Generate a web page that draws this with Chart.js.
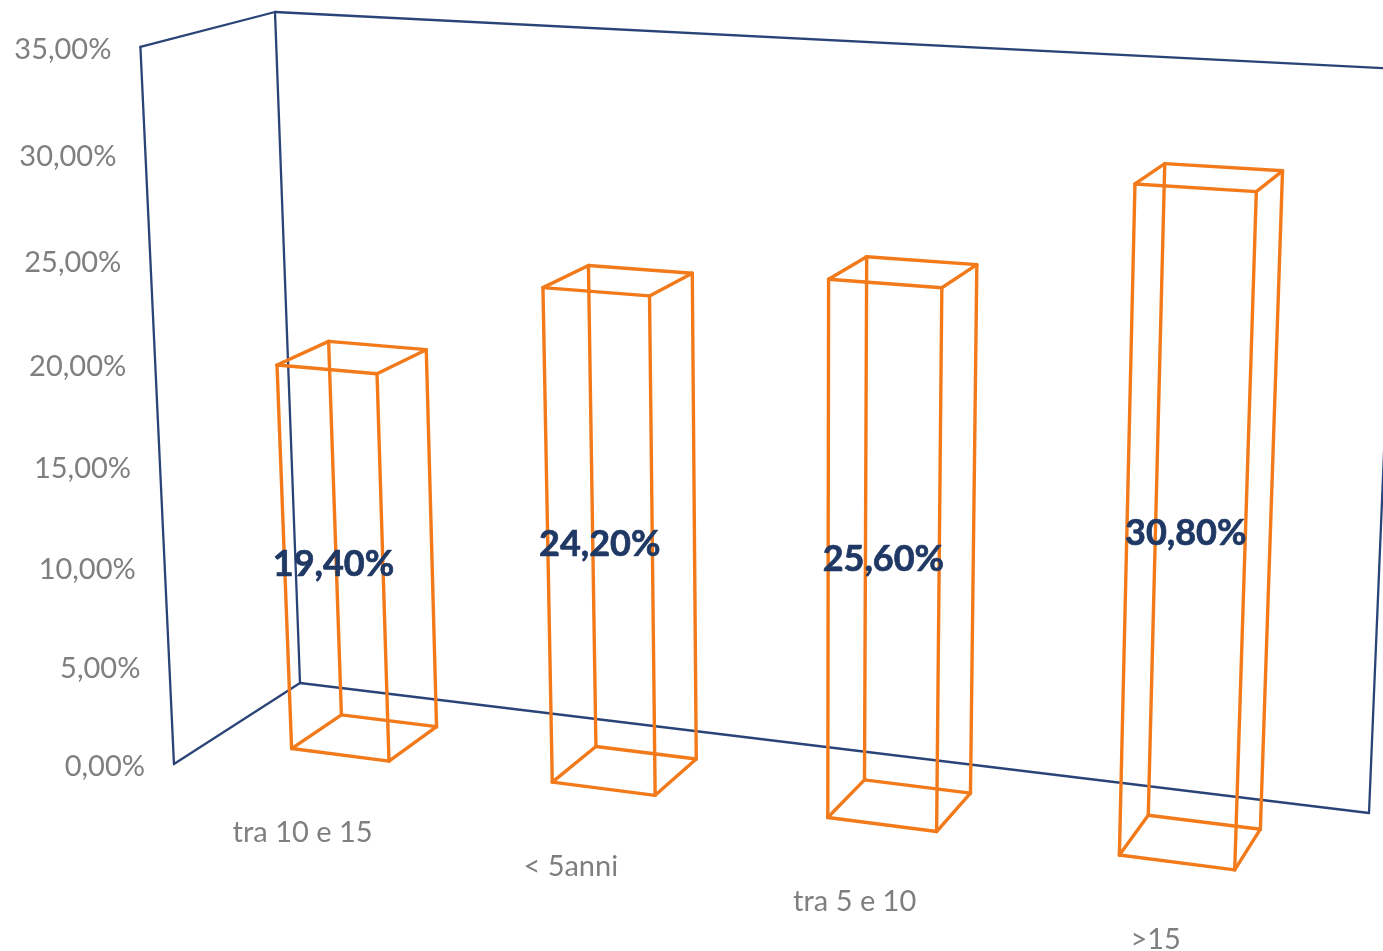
<!DOCTYPE html>
<html>
<head>
<meta charset="utf-8">
<title>Anzianità</title>
<script src="https://cdn.jsdelivr.net/npm/chart.js@4/dist/chart.umd.min.js"></script>
<style>
    html, body { margin: 0; padding: 0; background: #fff; overflow: hidden; }
    #wrap { width: 1383px; height: 951px; }
</style>
</head>
<body>
<div id="wrap"><canvas id="chart"></canvas></div>
<script>
// --- DATA ---
const categories = ['tra 10 e 15', '< 5anni', 'tra 5 e 10', '>15'];
const seriesValues = [19.4, 24.2, 25.6, 30.8];
const valueLabels = ['19,40%', '24,20%', '25,60%', '30,80%'];
const tickLabels = ['0,00%', '5,00%', '10,00%', '15,00%', '20,00%', '25,00%', '30,00%', '35,00%'];

// --- COLOURS / FONTS ---
const wallColor = '#2a4478';
const barColor = '#f27a1a';
const tickColor = '#7f7f7f';
const labelColor = '#1f3864';
const fontFamily = 'Lato, "Open Sans", sans-serif';

// --- 3D VIEW ---
// camera matrix: (u along categories, v up the value axis, w from back wall to front), all 0..1
const view = [
    [929.75, -37.92, -137.6, 300],
    [47.3, -671.56, 30.2, 683],
    [-0.10172, -0.04698, -0.0665, 1]
];
const barFront = 0.7;
const barBack = 0.29;

const project = (u, v, w) => {
    const [a, b, c] = view.map(r => r[0] * u + r[1] * v + r[2] * w + r[3]);
    return { x: a / c, y: b / c };
};

const drawLine = (ctx, p, q) => {
    ctx.beginPath();
    ctx.moveTo(p.x, p.y);
    ctx.lineTo(q.x, q.y);
    ctx.stroke();
};

// --- WIREFRAME PLUGIN ---
const wireframePlugin = {
    id: 'wireframe',
    afterDatasetsDraw(chart) {
        const { ctx, chartArea: area, scales } = chart;
        const toU = px => (px - area.left) / (area.right - area.left);
        const toV = py => (area.bottom - py) / (area.bottom - area.top);

        ctx.save();
        ctx.lineJoin = 'round';
        ctx.lineCap = 'round';

        // walls
        ctx.strokeStyle = wallColor;
        ctx.lineWidth = 2.3;
        const walls = [
            [[0, 0, 1], [0, 1, 1]], [[0, 1, 1], [0, 1, 0]], [[0, 1, 0], [0, 0, 0]], [[0, 0, 0], [0, 0, 1]],
            [[0, 0, 0], [1, 0, 0]], [[0, 1, 0], [1, 1, 0]], [[1, 0, 0], [1, 1, 0]]
        ];
        walls.forEach(([p, q]) => drawLine(ctx, project(...p), project(...q)));

        // bars, read from the bar elements chart.js laid out
        ctx.strokeStyle = barColor;
        ctx.lineWidth = 3.4;
        const bars = chart.getDatasetMeta(0).data;
        bars.forEach(bar => {
            const u0 = toU(bar.x - bar.width / 2);
            const u1 = toU(bar.x + bar.width / 2);
            const v0 = toV(bar.base);
            const v1 = toV(bar.y);
            const ring = v => [
                project(u0, v, barFront), project(u1, v, barFront),
                project(u1, v, barBack), project(u0, v, barBack)
            ];
            const bottom = ring(v0);
            const top = ring(v1);
            for (let i = 0; i < 4; i++) {
                drawLine(ctx, bottom[i], bottom[(i + 1) % 4]);
                drawLine(ctx, top[i], top[(i + 1) % 4]);
                drawLine(ctx, bottom[i], top[i]);
            }
        });

        // value axis labels
        ctx.fillStyle = tickColor;
        ctx.font = `29px ${fontFamily}`;
        ctx.textAlign = 'right';
        ctx.textBaseline = 'middle';
        scales.y.ticks.forEach(tick => {
            const p = project(0, toV(scales.y.getPixelForValue(tick.value)), 1);
            ctx.fillText(tick.label, p.x - 29, p.y + 3);
        });

        // category labels
        ctx.textAlign = 'center';
        categories.forEach((name, i) => {
            const u = toU(scales.x.getPixelForValue(i));
            const p = project(u, 0, 1);
            ctx.fillText(name, p.x, p.y + 53 - 8 * u);
        });

        // value labels on the front face
        ctx.fillStyle = labelColor;
        ctx.strokeStyle = labelColor;
        ctx.lineWidth = 0.7;
        ctx.font = `bold 36px ${fontFamily}`;
        bars.forEach((bar, i) => {
            const p = project(toU(bar.x), toV((bar.y + bar.base) / 2), barFront);
            ctx.fillText(valueLabels[i], p.x, p.y);
            ctx.strokeText(valueLabels[i], p.x, p.y);
        });
        ctx.restore();
    }
};

// --- CHART ---
const chart = new Chart(document.getElementById('chart').getContext('2d'), {
    type: 'bar',
    data: {
        labels: categories,
        datasets: [{
            data: seriesValues,
            backgroundColor: 'rgba(0,0,0,0)',
            borderWidth: 0,
            barPercentage: 0.38,
            categoryPercentage: 1
        }]
    },
    options: {
        responsive: true,
        maintainAspectRatio: false,
        animation: false,
        layout: { padding: 0 },
        plugins: { legend: { display: false }, tooltip: { enabled: false } },
        scales: {
            x: { display: false },
            y: {
                display: false,
                min: 0,
                max: 35,
                ticks: { stepSize: 5, callback: (value, i) => tickLabels[i] }
            }
        }
    },
    plugins: [wireframePlugin]
});
</script>
</body>
</html>
